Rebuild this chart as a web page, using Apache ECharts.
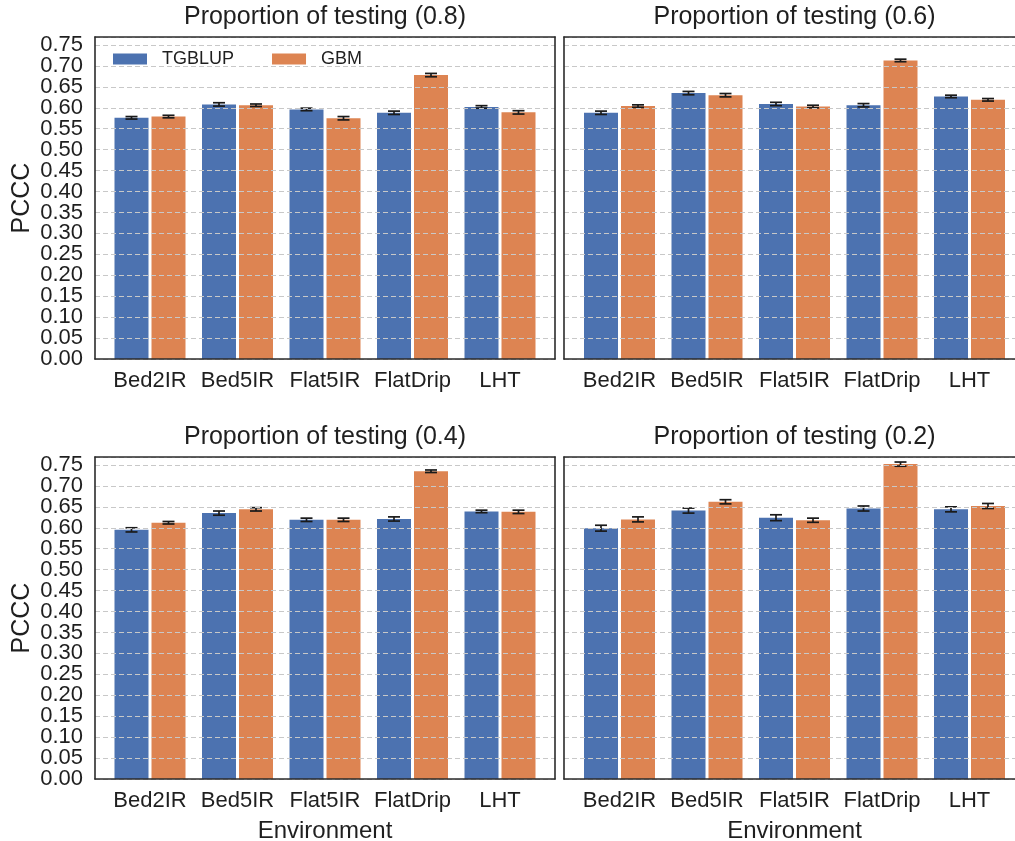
<!DOCTYPE html>
<html>
<head>
<meta charset="utf-8">
<script src="https://cdn.jsdelivr.net/npm/echarts@6/dist/echarts.min.js"></script>
<style>
html,body{margin:0;padding:0;background:#fff;}
#chart{width:1015px;height:841px;}
</style>
</head>
<body>
<div id="chart"></div>
<script>
// ---- data ----
const categories = ['Bed2IR', 'Bed5IR', 'Flat5IR', 'FlatDrip', 'LHT'];
const panelTitles = ['Proportion of testing (0.8)', 'Proportion of testing (0.6)', 'Proportion of testing (0.4)', 'Proportion of testing (0.2)'];
const seriesNames = ['TGBLUP', 'GBM'];

const tgblup08 = [0.576, 0.608, 0.596, 0.588, 0.602];
const gbm08    = [0.579, 0.606, 0.575, 0.678, 0.589];
const tgblup08Err = [0.003, 0.004, 0.003, 0.004, 0.003];
const gbm08Err    = [0.003, 0.003, 0.004, 0.004, 0.004];

const tgblup06 = [0.588, 0.635, 0.609, 0.606, 0.627];
const gbm06    = [0.604, 0.630, 0.603, 0.713, 0.619];
const tgblup06Err = [0.004, 0.004, 0.004, 0.004, 0.003];
const gbm06Err    = [0.003, 0.004, 0.003, 0.003, 0.003];

const tgblup04 = [0.595, 0.635, 0.619, 0.621, 0.639];
const gbm04    = [0.612, 0.644, 0.619, 0.735, 0.638];
const tgblup04Err = [0.005, 0.005, 0.004, 0.005, 0.003];
const gbm04Err    = [0.003, 0.004, 0.004, 0.003, 0.004];

const tgblup02 = [0.599, 0.641, 0.624, 0.646, 0.644];
const gbm02    = [0.620, 0.662, 0.618, 0.752, 0.652];
const tgblup02Err = [0.007, 0.006, 0.007, 0.006, 0.006];
const gbm02Err    = [0.006, 0.005, 0.005, 0.005, 0.006];

const yTickLabels = ['0.00','0.05','0.10','0.15','0.20','0.25','0.30','0.35','0.40','0.45','0.50','0.55','0.60','0.65','0.70','0.75'];

const panels = [
  {t: tgblup08, g: gbm08, te: tgblup08Err, ge: gbm08Err},
  {t: tgblup06, g: gbm06, te: tgblup06Err, ge: gbm06Err},
  {t: tgblup04, g: gbm04, te: tgblup04Err, ge: gbm04Err},
  {t: tgblup02, g: gbm02, te: tgblup02Err, ge: gbm02Err}
];

// ---- layout / style ----
const FONT = 'Liberation Sans, Arial, Helvetica, sans-serif';
const TXT = '#1f1f1f';
const FRAME = '#2b2b2b';
const COLORS = ['#4c72b0', '#dd8452'];
const frames = [
  {left: 95,  top: 37,  width: 460, height: 322},
  {left: 564, top: 37,  width: 461, height: 322},
  {left: 95,  top: 457, width: 460, height: 322},
  {left: 564, top: 457, width: 461, height: 322}
];
const INNER_W = 437.5;
const BAR_W = 34;
const BAR_GAP_PX = 3;
const YMAX = 0.769;

const grid = [], xAxis = [], yAxis = [], series = [], title = [];
const frameLine = {show: true, onZero: false, lineStyle: {color: FRAME, width: 1.6}};
const yLabelStyle = {fontSize: 22, color: TXT, fontFamily: FONT, margin: 12};

frames.forEach((f, i) => {
  const cx = f.left + f.width / 2;
  const isLeft = (i % 2 === 0);
  const isBottom = i >= 2;
  // outer grid (frame + gridlines)
  grid.push({left: f.left, top: f.top, width: f.width, height: f.height, containLabel: false, outerBoundsMode: 'none'});
  // inner grid (bars)
  grid.push({left: cx - INNER_W / 2, top: f.top, width: INNER_W, height: f.height, containLabel: false, outerBoundsMode: 'none'});
  const og = 2 * i, ig = 2 * i + 1;

  // frame: bottom + top axis lines in outer grid
  xAxis.push({gridIndex: og, type: 'category', data: categories, position: 'bottom',
    axisLine: frameLine, axisTick: {show: false}, axisLabel: {show: false}, splitLine: {show: false}, z: 10});
  xAxis.push({gridIndex: og, type: 'category', data: categories, position: 'top',
    axisLine: frameLine, axisTick: {show: false}, axisLabel: {show: false}, splitLine: {show: false}, z: 10});
  // category axis for bars
  xAxis.push({gridIndex: ig, type: 'category', data: categories,
    axisLine: {show: false}, axisTick: {show: false},
    axisLabel: {fontSize: 22, color: TXT, fontFamily: FONT, margin: 11, interval: 0},
    name: isBottom ? 'Environment' : '', nameLocation: 'middle', nameGap: 40,
    nameTextStyle: {fontSize: 24, color: TXT, fontFamily: FONT}
  });

  // left axis: gridlines + labels 0.05..0.75
  yAxis.push({gridIndex: og, type: 'value', min: 0, max: YMAX, interval: 0.05, position: 'left',
    axisLine: frameLine, axisTick: {show: false}, z: 10,
    splitLine: {show: true, lineStyle: {color: '#c8c8c8', type: [5, 3], width: 1}},
    axisLabel: Object.assign({show: isLeft, showMinLabel: false, showMaxLabel: false,
      formatter: (v) => yTickLabels[Math.round(v / 0.05)] || ''}, yLabelStyle),
    name: isLeft ? 'PCCC' : '', nameLocation: 'middle', nameRotate: 90, nameGap: 60,
    nameTextStyle: {fontSize: 25, color: TXT, fontFamily: FONT}
  });
  // right frame line
  yAxis.push({gridIndex: og, type: 'value', min: 0, max: YMAX, interval: 0.05, position: 'right',
    axisLine: frameLine, axisTick: {show: false}, axisLabel: {show: false}, splitLine: {show: false}, z: 10});
  // left axis carrying only the 0.00 label
  yAxis.push({gridIndex: og, type: 'value', min: 0, max: YMAX, interval: 0.75, position: 'left',
    axisLine: {show: false}, axisTick: {show: false}, splitLine: {show: false},
    axisLabel: Object.assign({show: isLeft, showMinLabel: true, showMaxLabel: false,
      formatter: (v) => (v === 0 ? yTickLabels[0] : '')}, yLabelStyle)});
  // inner value axis for bars
  yAxis.push({gridIndex: ig, type: 'value', min: 0, max: YMAX, interval: 0.05, show: false, splitLine: {show: false}});

  title.push({text: panelTitles[i], left: cx, top: f.top - 32, textAlign: 'center', padding: 0,
    textStyle: {fontSize: 25, fontWeight: 'normal', color: TXT, fontFamily: FONT}});

  const xi = 3 * i + 2;         // bar x axis index
  const yi = 4 * i + 3;         // bar y axis index
  const p = panels[i];
  [p.t, p.g].forEach((vals, k) => {
    series.push({name: seriesNames[k], type: 'bar', xAxisIndex: xi, yAxisIndex: yi,
      data: vals, barWidth: BAR_W, barGap: (BAR_GAP_PX / BAR_W * 100) + '%',
      itemStyle: {color: COLORS[k]}, silent: true, z: 2});
  });
  // error bars
  [[p.t, p.te, -1], [p.g, p.ge, 1]].forEach(([vals, errs, side]) => {
    const data = vals.map((v, j) => [j, v - errs[j], v + errs[j]]);
    series.push({type: 'custom', xAxisIndex: xi, yAxisIndex: yi, data: data, silent: true, z: 5,
      encode: {x: 0, y: [1, 2]},
      renderItem: function (params, api) {
        const lo = api.coord([api.value(0), api.value(1)]);
        const hi = api.coord([api.value(0), api.value(2)]);
        const x = lo[0] + side * (BAR_W + BAR_GAP_PX) / 2;
        const hw = 6;
        const st = {stroke: '#1a1a1a', lineWidth: 1.7};
        return {type: 'group', children: [
          {type: 'line', shape: {x1: x, y1: lo[1], x2: x, y2: hi[1]}, style: st},
          {type: 'line', shape: {x1: x - hw, y1: lo[1], x2: x + hw, y2: lo[1]}, style: st},
          {type: 'line', shape: {x1: x - hw, y1: hi[1], x2: x + hw, y2: hi[1]}, style: st}
        ]};
      }
    });
  });
});

const chart = echarts.init(document.getElementById('chart'), null, {renderer: 'canvas'});
chart.setOption({
  animation: false,
  backgroundColor: '#fff',
  textStyle: {fontFamily: FONT},
  title: title,
  legend: {data: seriesNames, left: 113, top: 50, padding: 0, itemWidth: 34, itemHeight: 11, itemGap: 38,
    icon: 'rect',
    textStyle: {fontSize: 18, color: TXT, fontFamily: FONT, padding: [0, 0, 0, 10]}},
  grid: grid, xAxis: xAxis, yAxis: yAxis, series: series
});
</script>
</body>
</html>
